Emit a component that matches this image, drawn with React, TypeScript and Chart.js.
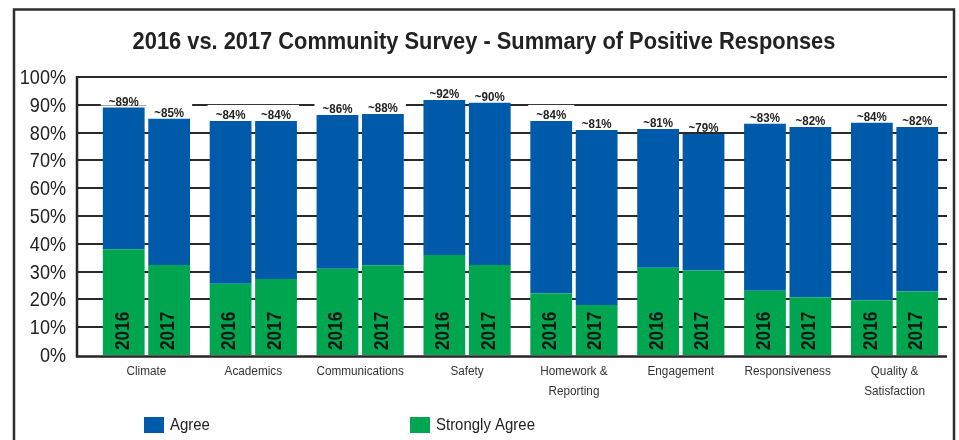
import React, { useEffect, useRef } from 'react';
import { Chart, registerables } from 'chart.js';

Chart.register(...registerables);

const FONT = "'Liberation Sans', Arial, sans-serif";

const categories: (string | string[])[] = [
  'Climate',
  'Academics',
  'Communications',
  'Safety',
  ['Homework &', 'Reporting'],
  'Engagement',
  'Responsiveness',
  ['Quality &', 'Satisfaction'],
];

const stronglyAgree2016 = [38.0, 25.6, 31.0, 36.0, 22.2, 31.4, 23.1, 19.7];
const stronglyAgree2017 = [32.4, 27.3, 32.3, 32.4, 18.0, 30.4, 20.8, 22.8];
const agree2016 = [51.0, 58.6, 55.3, 55.7, 62.0, 49.9, 60.1, 63.8];
const agree2017 = [52.6, 56.9, 54.4, 58.3, 62.9, 49.1, 61.2, 59.2];

const totalLabels2016 = ['~89%', '~84%', '~86%', '~92%', '~84%', '~81%', '~83%', '~84%'];
const totalLabels2017 = ['~85%', '~84%', '~88%', '~90%', '~81%', '~79%', '~82%', '~82%'];
const yearLabels = ['2016', '2017'];

const yTicks = [0, 10, 20, 30, 40, 50, 60, 70, 80, 90, 100];

const TITLE = '2016 vs. 2017 Community Survey - Summary of Positive Responses';
const legendLabels = ['Agree', 'Strongly Agree'];

const BLUE = '#005AAA';
const GREEN = '#00A64F';
const INK = '#222222';

function narrowText(ctx: CanvasRenderingContext2D, text: string, x: number, y: number, sx: number, align: CanvasTextAlign) {
  ctx.save();
  ctx.translate(x, y);
  ctx.scale(sx, 1);
  ctx.textAlign = align;
  ctx.fillText(text, 0, 0);
  ctx.restore();
}

export default function App() {
  const ref = useRef<HTMLCanvasElement>(null);

  useEffect(() => {
    if (!ref.current) return;

    const framePlugin = {
      id: 'frame',
      beforeDraw(chart: any) {
        const ctx = chart.ctx;
        ctx.save();
        ctx.fillStyle = '#ffffff';
        ctx.fillRect(0, 0, chart.width, chart.height);
        ctx.strokeStyle = '#2e2e2e';
        ctx.lineWidth = 2.5;
        ctx.strokeRect(14, 9.5, 940, 450);
        ctx.fillStyle = INK;
        ctx.font = `bold 24px ${FONT}`;
        ctx.textBaseline = 'alphabetic';
        narrowText(ctx, TITLE, 484, 49, 0.91, 'center');
        ctx.restore();
      },
    };

    const gridPlugin = {
      id: 'customGrid',
      beforeDatasetsDraw(chart: any) {
        const ctx = chart.ctx;
        const y = chart.scales.y;
        const left = chart.chartArea.left - 16;
        const right = chart.chartArea.right - 1;
        ctx.save();
        ctx.strokeStyle = '#2a2a2a';
        ctx.lineWidth = 2;
        yTicks.forEach((v) => {
          if (v === 0) return;
          const py = Math.round(y.getPixelForValue(v));
          ctx.beginPath();
          ctx.moveTo(left, py);
          ctx.lineTo(right, py);
          ctx.stroke();
        });
        ctx.fillStyle = INK;
        ctx.font = `21px ${FONT}`;
        ctx.textBaseline = 'alphabetic';
        yTicks.forEach((v) => {
          const py = y.getPixelForValue(v);
          narrowText(ctx, `${v}%`, left - 11, py + 7, 0.86, 'right');
        });
        const x = chart.scales.x;
        ctx.fillStyle = '#333333';
        ctx.font = `12.5px ${FONT}`;
        categories.forEach((c, i) => {
          const px = x.getPixelForValue(i);
          const lines = Array.isArray(c) ? c : [c];
          lines.forEach((ln, k) => {
            narrowText(ctx, ln, px, chart.chartArea.bottom + 20 + 20 * k, 0.94, 'center');
          });
        });
        ctx.restore();
      },
      afterDatasetsDraw(chart: any) {
        const ctx = chart.ctx;
        const y = chart.scales.y;
        const left = chart.chartArea.left - 16;
        const right = chart.chartArea.right - 1;
        const y0 = Math.round(y.getPixelForValue(0)) + 0.5;
        const y100 = Math.round(y.getPixelForValue(100));
        ctx.save();
        ctx.strokeStyle = '#262626';
        ctx.lineWidth = 2.5;
        ctx.beginPath();
        ctx.moveTo(left, y100 - 1);
        ctx.lineTo(left, y0 + 1);
        ctx.lineTo(right, y0 + 1);
        ctx.stroke();
        ctx.restore();
      },
    };

    const labelPlugin = {
      id: 'barLabels',
      afterDatasetsDraw(chart: any) {
        const ctx = chart.ctx;
        ctx.save();
        const groups = [
          { idx: 1, labels: totalLabels2016 },
          { idx: 3, labels: totalLabels2017 },
        ];
        // white label boxes (they hide the grid lines behind the labels)
        ctx.fillStyle = '#ffffff';
        groups.forEach(({ idx }) => {
          chart.getDatasetMeta(idx).data.forEach((bar: any) => {
            ctx.fillRect(bar.x - 23, bar.y - 16, 46, 14);
          });
        });
        ctx.fillStyle = INK;
        ctx.font = `bold 13px ${FONT}`;
        ctx.textBaseline = 'alphabetic';
        groups.forEach(({ idx, labels }) => {
          chart.getDatasetMeta(idx).data.forEach((bar: any, j: number) => {
            narrowText(ctx, labels[j], bar.x, bar.y - 2, 0.89, 'center');
          });
        });
        ctx.font = `bold 21px ${FONT}`;
        ctx.fillStyle = '#161616';
        ctx.textBaseline = 'middle';
        [0, 2].forEach((idx, k) => {
          chart.getDatasetMeta(idx).data.forEach((bar: any) => {
            ctx.save();
            ctx.translate(bar.x - 1, bar.base - 5);
            ctx.rotate(-Math.PI / 2);
            narrowText(ctx, yearLabels[k], 0, 0, 0.82, 'left');
            ctx.restore();
          });
        });
        ctx.restore();
      },
    };

    const legendPlugin = {
      id: 'customLegend',
      afterDraw(chart: any) {
        const ctx = chart.ctx;
        const colors = [BLUE, GREEN];
        const xs = [144, 410];
        ctx.save();
        ctx.font = `17px ${FONT}`;
        ctx.textBaseline = 'alphabetic';
        legendLabels.forEach((lab, i) => {
          ctx.fillStyle = colors[i];
          ctx.fillRect(xs[i], 417, 20, 16);
          ctx.fillStyle = INK;
          narrowText(ctx, lab, xs[i] + 26, 430, 0.88, 'left');
        });
        ctx.restore();
      },
    };

    const chart = new Chart(ref.current, {
      type: 'bar',
      data: {
        labels: categories,
        datasets: [
          { label: 'Strongly Agree', data: stronglyAgree2016, backgroundColor: GREEN, stack: '2016' },
          { label: 'Agree', data: agree2016, backgroundColor: BLUE, stack: '2016' },
          { label: 'Strongly Agree', data: stronglyAgree2017, backgroundColor: GREEN, stack: '2017' },
          { label: 'Agree', data: agree2017, backgroundColor: BLUE, stack: '2017' },
        ].map((d) => ({ ...d, borderWidth: 0, categoryPercentage: 0.85, barPercentage: 0.92 })),
      },
      options: {
        animation: false,
        responsive: true,
        maintainAspectRatio: false,
        layout: { padding: { left: 27, right: 11, top: 77, bottom: 0 } },
        plugins: {
          legend: { display: false },
          tooltip: { enabled: false },
          title: { display: false },
        },
        scales: {
          x: {
            stacked: true,
            grid: { display: false, drawTicks: false },
            border: { display: false },
            ticks: { display: false },
            afterFit: (s: any) => {
              s.height = 85;
            },
          },
          y: {
            stacked: true,
            min: 0,
            max: 100,
            grid: { display: false, drawTicks: false },
            border: { display: false },
            ticks: { display: false, stepSize: 10 },
            afterFit: (s: any) => {
              s.width = 66;
            },
          },
        },
      },
      plugins: [framePlugin, gridPlugin, labelPlugin, legendPlugin],
    });

    return () => chart.destroy();
  }, []);

  return (
    <div style={{ position: 'absolute', left: 0, top: 0, width: 959, height: 440 }}>
      <canvas ref={ref} />
    </div>
  );
}
